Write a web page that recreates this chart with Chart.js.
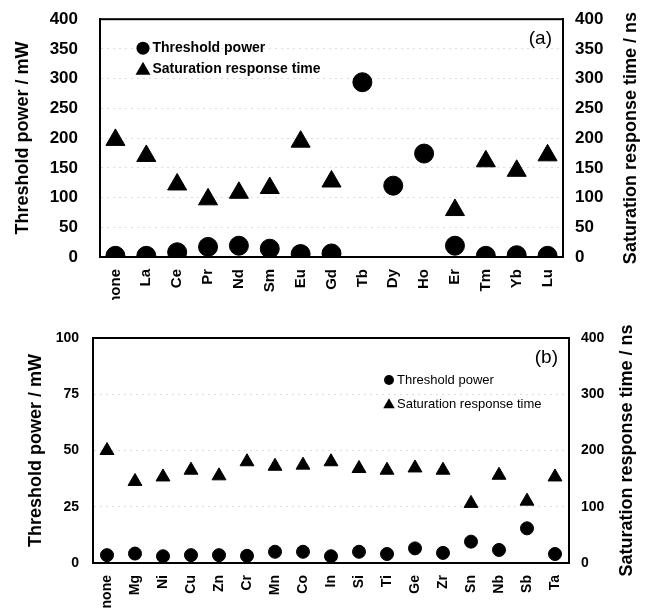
<!DOCTYPE html>
<html>
<head>
<meta charset="utf-8">
<script src="https://cdn.jsdelivr.net/npm/chart.js@4"></script>
<style>
  body { margin: 0; background: #fff; overflow: hidden; }
  canvas { display: block; }
  #chartA { margin-top: -13px; }
</style>
</head>
<body>
<canvas id="chartA" width="659" height="313"></canvas>
<canvas id="chartB" width="659" height="312"></canvas>
<script>
// panel (a): rare earth dopants
const dopantsA = ['none', 'La', 'Ce', 'Pr', 'Nd', 'Sm', 'Eu', 'Gd', 'Tb', 'Dy', 'Ho', 'Er', 'Tm', 'Yb', 'Lu'];
const powerA = [2, 2, 8, 17, 19, 14, 5, 6, 294, 120, 174, 19, 2, 3, 2];
const timeA = [197, 170, 122, 97, 108, 116, 194, 127, null, null, null, 79, 161, 145, 171];
const ticksA = [0, 50, 100, 150, 200, 250, 300, 350, 400];

// panel (b): other dopants
const dopantsB = ['none', 'Mg', 'Ni', 'Cu', 'Zn', 'Cr', 'Mn', 'Co', 'In', 'Si', 'Ti', 'Ge', 'Zr', 'Sn', 'Nb', 'Sb', 'Ta'];
const powerB = [3.5, 4.2, 3, 3.5, 3.5, 3.2, 5, 5, 3, 5, 4, 6.5, 4.5, 9.5, 5.8, 15.4, 4];
const timeB = [200, 145, 153, 165, 155, 180, 172, 174, 180, 168, 165, 169, 165, 106, 156, 110, 153];
const ticksPowerB = [0, 25, 50, 75, 100];
const ticksTimeB = [0, 100, 200, 300, 400];

const FONT = "'Liberation Sans', Arial, sans-serif";

const framePlugin = {
  id: 'frame',
  afterDraw(chart, args, o) {
    const { ctx, chartArea: a } = chart;
    ctx.save();
    ctx.strokeStyle = '#000';
    ctx.lineWidth = 2;
    ctx.strokeRect(a.left, a.top, a.right - a.left, a.bottom - a.top);

    // legend inside the plot
    ctx.fillStyle = '#000';
    ctx.font = o.legendFont;
    ctx.textBaseline = 'middle';
    ctx.textAlign = 'left';
    const lx = a.left + o.legendX, ly = a.top + o.legendY;
    ctx.beginPath();
    ctx.arc(lx, ly, o.legendSize, 0, Math.PI * 2);
    ctx.fill();
    ctx.fillText('Threshold power', lx + o.legendSize + 3, ly);
    const ty = ly + o.legendGap, s = o.legendSize * 1.15;
    ctx.beginPath();
    ctx.moveTo(lx, ty - s);
    ctx.lineTo(lx + s, ty + s * 0.75);
    ctx.lineTo(lx - s, ty + s * 0.75);
    ctx.closePath();
    ctx.fill();
    ctx.fillText('Saturation response time', lx + o.legendSize + 3, ty);

    // panel tag
    ctx.font = '19px ' + FONT;
    ctx.textAlign = 'right';
    ctx.fillText(o.tag, a.right - 11, a.top + 20);

    // axis titles, both reading bottom to top
    ctx.font = 'bold 18px ' + FONT;
    ctx.textAlign = 'center';
    const mid = (a.top + a.bottom) / 2;
    [[o.leftTitleX, 'Threshold power / mW'], [o.rightTitleX, 'Saturation response time / ns']].forEach(([x, t]) => {
      ctx.save();
      ctx.translate(x, mid);
      ctx.rotate(-Math.PI / 2);
      ctx.fillText(t, 0, 0);
      ctx.restore();
    });
    ctx.restore();
  }
};

function makeChart(id, labels, power, time, cfg) {
  return new Chart(document.getElementById(id), {
    type: 'line',
    data: {
      labels: labels,
      datasets: [{
        label: 'Threshold power',
        data: power,
        yAxisID: 'y',
        showLine: false,
        pointStyle: 'circle',
        pointRadius: cfg.circle,
        backgroundColor: '#000',
        borderColor: '#000'
      }, {
        label: 'Saturation response time',
        data: time,
        yAxisID: 'y2',
        showLine: false,
        pointStyle: 'triangle',
        pointRadius: cfg.triangle,
        backgroundColor: '#000',
        borderColor: '#000'
      }]
    },
    options: {
      responsive: false,
      animation: false,
      layout: { padding: { top: cfg.top, left: 0, right: 0, bottom: 0 } },
      plugins: {
        legend: { display: false },
        tooltip: { enabled: false },
        frame: cfg.frame
      },
      scales: {
        x: {
          offset: true,
          grid: { display: false },
          border: { color: '#000', width: 2 },
          ticks: {
            color: '#000',
            minRotation: 90,
            maxRotation: 90,
            padding: 4,
            font: { family: FONT, size: cfg.xFont, weight: 'bold' }
          },
          afterFit(s) { s.height = cfg.xHeight; }
        },
        y: {
          position: 'left',
          min: 0,
          max: cfg.leftMax,
          afterBuildTicks(s) { s.ticks = cfg.leftTicks.map(v => ({ value: v })); },
          grid: { color: '#dcdcdc', drawTicks: false },
          border: { color: '#000', width: 2, dash: [2, 4] },
          ticks: {
            color: '#000',
            padding: cfg.leftPad,
            font: { family: FONT, size: cfg.yFont, weight: 'bold' }
          },
          afterFit(s) { s.width = cfg.leftWidth; }
        },
        y2: {
          position: 'right',
          min: 0,
          max: 400,
          afterBuildTicks(s) { s.ticks = cfg.rightTicks.map(v => ({ value: v })); },
          grid: { display: false },
          border: { color: '#000', width: 2 },
          ticks: {
            color: '#000',
            padding: cfg.rightPad,
            font: { family: FONT, size: cfg.yFont, weight: 'bold' }
          },
          afterFit(s) { s.width = cfg.rightWidth; }
        }
      }
    },
    plugins: [framePlugin]
  });
}

makeChart('chartA', dopantsA, powerA, timeA, {
  circle: 9.5, triangle: 11, top: 9,
  xFont: 15, yFont: 17, xHeight: 43,
  leftMax: 400, leftTicks: ticksA, rightTicks: ticksA,
  leftPad: 22, rightPad: 4, leftWidth: 100, rightWidth: 96,
  frame: {
    tag: '(a)', legendX: 43, legendY: 29, legendGap: 21, legendSize: 6.5,
    legendFont: 'bold 14px ' + FONT, leftTitleX: 23, rightTitleX: 631
  }
});

makeChart('chartB', dopantsB, powerB, timeB, {
  circle: 6.5, triangle: 8, top: 38,
  xFont: 14, yFont: 14, xHeight: 49,
  leftMax: 100, leftTicks: ticksPowerB, rightTicks: ticksTimeB,
  leftPad: 14, rightPad: 4, leftWidth: 93, rightWidth: 90,
  frame: {
    tag: '(b)', legendX: 296, legendY: 42, legendGap: 24, legendSize: 5,
    legendFont: '13px ' + FONT, leftTitleX: 36, rightTitleX: 627
  }
});
</script>
</body>
</html>
